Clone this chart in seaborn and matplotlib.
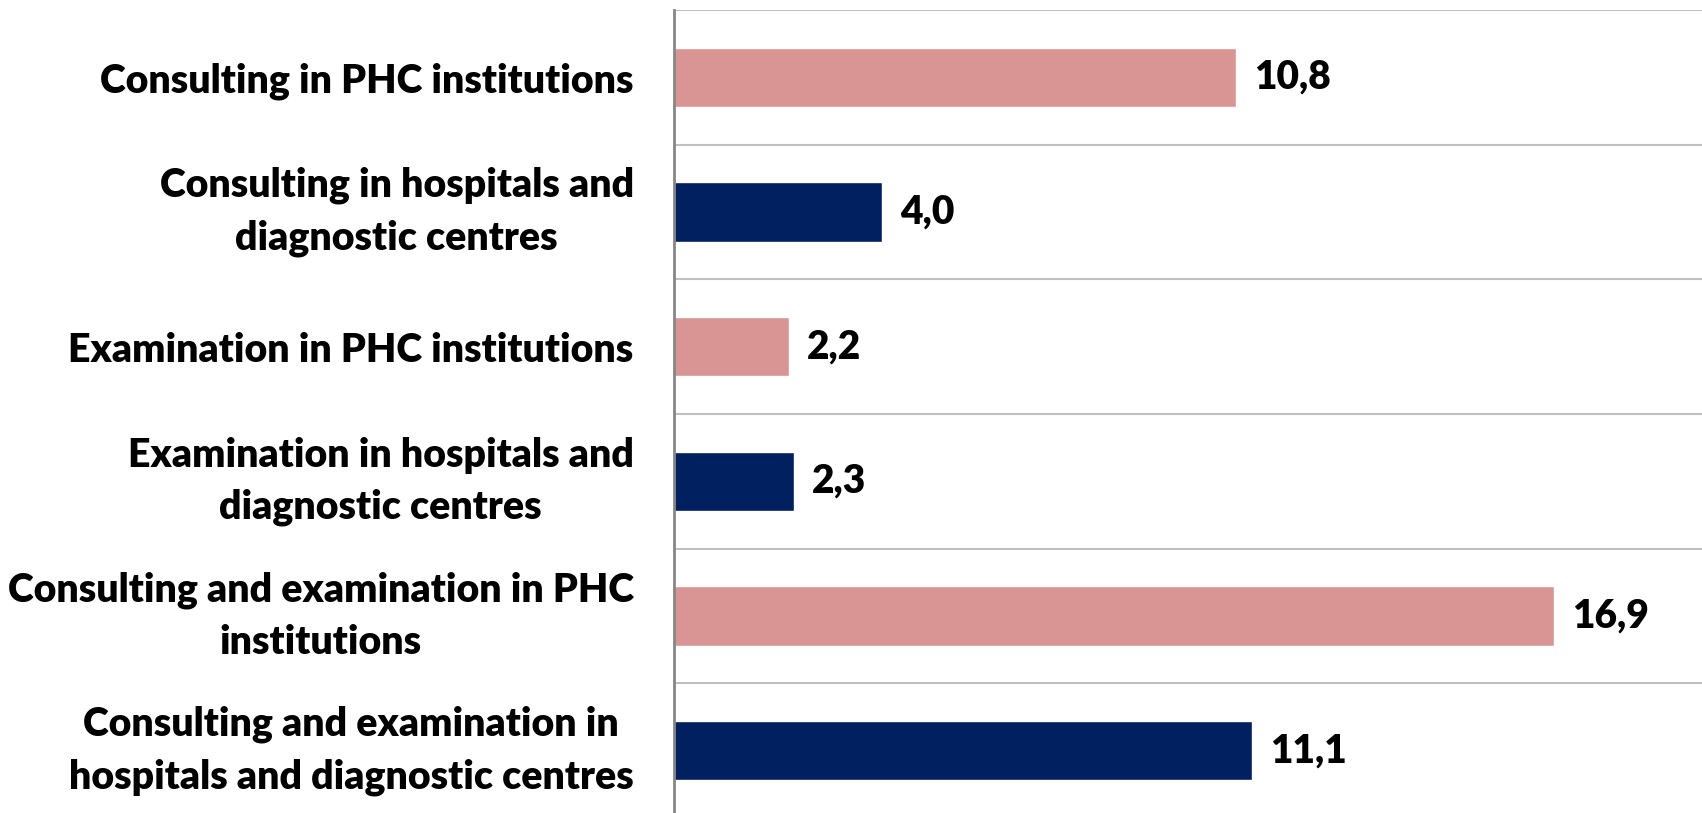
import numpy as np
import pandas as pd
import matplotlib
matplotlib.use("Agg")
import matplotlib.pyplot as plt
import seaborn as sns

# data
categories = [
    "Consulting in PHC institutions",
    "Consulting in hospitals and\ndiagnostic centres",
    "Examination in PHC institutions",
    "Examination in hospitals and\ndiagnostic centres",
    "Consulting and examination in PHC\ninstitutions",
    "Consulting and examination in\nhospitals and diagnostic centres",
]
values = [10.8, 4.0, 2.2, 2.3, 16.9, 11.1]
bar_colors = ["#D99594", "#002060", "#D99594", "#002060", "#D99594", "#002060"]

sns.set_style("white")
plt.rcParams["font.family"] = ["Lato", "DejaVu Sans"]

df = pd.DataFrame({"category": categories, "value": values})

fig = plt.figure(figsize=(17.02, 8.13), dpi=100)
# axes from y=10 px to y=818 px (a bit past the bottom edge), x from 674 px
ax = fig.add_axes([674 / 1702, 1 - 818 / 813, 1 - 674 / 1702, 808 / 813])

sns.barplot(data=df, x="value", y="category", hue="category",
            palette=bar_colors, legend=False, width=0.44, saturation=1,
            ax=ax)

ax.set_xlim(0, 19.74)
ax.set_ylim(len(categories) - 0.5, -0.5)
ax.set_xlabel("")
ax.set_ylabel("")
ax.set_xticks([])

# labels at centres, grid + tick marks at the category boundaries
ax.set_yticks(np.arange(len(categories)))
ax.set_yticklabels(categories, fontsize=28.3, fontweight="heavy", color="black",
                   linespacing=1.5, multialignment="center")
for lbl in ax.get_yticklabels():
    if "\n" in lbl.get_text():
        lbl.set_verticalalignment("center")
ax.tick_params(axis="y", which="major", length=0, pad=29)
ax.set_yticks(np.arange(len(categories) + 1) - 0.5, minor=True)
ax.tick_params(axis="y", which="minor", length=10, width=1.5, color="#868686")
ax.grid(axis="y", which="minor", color="#C0C0C0", linewidth=1.5)
ax.grid(axis="y", which="major", visible=False)
ax.set_axisbelow(True)

for side in ["top", "right", "bottom"]:
    ax.spines[side].set_visible(False)
ax.spines["left"].set_color("#868686")
ax.spines["left"].set_linewidth(2)

for cont in ax.containers:
    ax.bar_label(cont, labels=[f"{v:.1f}".replace(".", ",") for v in cont.datavalues],
                 padding=13, fontsize=28, fontweight="heavy", color="black")

fig.savefig("out.png", dpi=100)
